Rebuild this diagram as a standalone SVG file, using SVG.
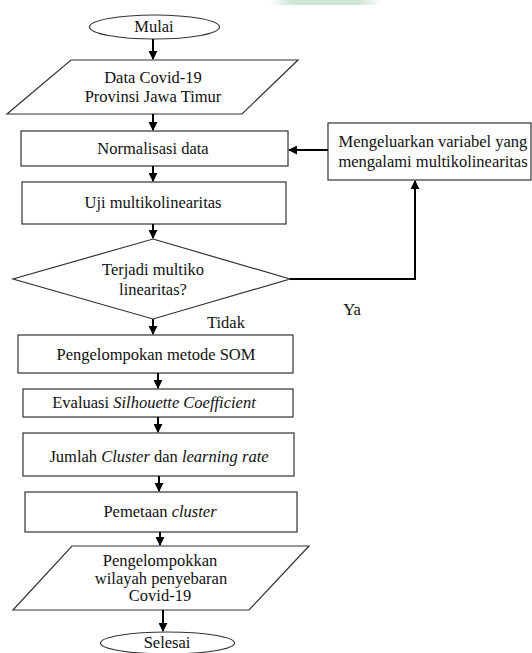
<svg xmlns="http://www.w3.org/2000/svg" width="532" height="653" viewBox="0 0 532 653">
<defs>
<style>
.s{fill:#fff;stroke:#333;stroke-width:1.2}
.t{font-family:"Liberation Serif","Times New Roman","DejaVu Serif",serif;font-size:16.5px;fill:#111;text-anchor:middle}
.c{fill:none;stroke:#000;stroke-width:2}
</style>
<marker id="ah" viewBox="0 0 10 10" refX="9" refY="5" markerWidth="4.5" markerHeight="4.5" orient="auto" markerUnits="strokeWidth">
<path d="M0,0 L10,5 L0,10 Z" fill="#000"/>
</marker>
<linearGradient id="wm" x1="0" x2="1" y1="0" y2="0">
<stop offset="0" stop-color="#cfe5d6" stop-opacity="0"/>
<stop offset="0.2" stop-color="#cfe5d6" stop-opacity="1"/>
<stop offset="0.8" stop-color="#cfe5d6" stop-opacity="1"/>
<stop offset="1" stop-color="#cfe5d6" stop-opacity="0"/>
</linearGradient>
</defs>
<rect width="532" height="653" fill="#fff"/>
<rect x="270" y="0" width="112" height="5" fill="url(#wm)"/>

<g id="mulai"><ellipse class="s" cx="154.5" cy="27" rx="65" ry="12"/><text class="t" x="154" y="32">Mulai</text></g>
<g id="data"><polygon class="s" points="71,60 298,60 242,114 7,114"/><text class="t" x="153" y="83">Data Covid-19</text><text class="t" x="153" y="102">Provinsi Jawa Timur</text></g>
<g id="normalisasi"><rect class="s" x="21" y="131" width="267" height="35"/><text class="t" x="153" y="154">Normalisasi data</text></g>
<g id="uji"><rect class="s" x="22" y="182" width="264" height="42"/><text class="t" x="153" y="208">Uji multikolinearitas</text></g>
<g id="keputusan"><polygon class="s" points="153,239 290,279 153,319 13,279"/><text class="t" x="153" y="275">Terjadi multiko</text><text class="t" x="153" y="295">linearitas?</text></g>
<g id="mengeluarkan"><rect class="s" x="328" y="123" width="203" height="57"/><text class="t" x="433" y="147">Mengeluarkan variabel yang</text><text class="t" x="433" y="167">mengalami multikolinearitas</text></g>
<g id="som"><rect class="s" x="18" y="335" width="275" height="38"/><text class="t" x="156" y="360">Pengelompokan metode SOM</text></g>
<g id="evaluasi"><rect class="s" x="23" y="389" width="270" height="28"/><text class="t" x="154" y="408">Evaluasi <tspan font-style="italic">Silhouette Coefficient</tspan></text></g>
<g id="jumlah"><rect class="s" x="23" y="433" width="271" height="43"/><text class="t" x="159" y="462">Jumlah <tspan font-style="italic">Cluster</tspan> dan <tspan font-style="italic">learning rate</tspan></text></g>
<g id="pemetaan"><rect class="s" x="25" y="492" width="272" height="40"/><text class="t" x="160" y="517">Pemetaan <tspan font-style="italic">cluster</tspan></text></g>
<g id="hasil"><polygon class="s" points="72,546 309,546 249,610 13,610"/><text class="t" x="160" y="566">Pengelompokkan</text><text class="t" x="161" y="583.5">wilayah penyebaran</text><text class="t" x="160" y="601">Covid-19</text></g>
<g id="selesai"><ellipse class="s" cx="167.5" cy="643" rx="67" ry="11"/><text class="t" x="167" y="648">Selesai</text></g>

<g id="connectors">
<line class="c" x1="153" y1="39" x2="153" y2="59" marker-end="url(#ah)"/>
<line class="c" x1="153" y1="114" x2="153" y2="130" marker-end="url(#ah)"/>
<line class="c" x1="153" y1="166" x2="153" y2="181" marker-end="url(#ah)"/>
<line class="c" x1="153" y1="224" x2="153" y2="238" marker-end="url(#ah)"/>
<line class="c" x1="153" y1="319" x2="153" y2="334" marker-end="url(#ah)"/>
<line class="c" x1="158" y1="373" x2="158" y2="388" marker-end="url(#ah)"/>
<line class="c" x1="158" y1="417" x2="158" y2="432" marker-end="url(#ah)"/>
<line class="c" x1="159" y1="476" x2="159" y2="491" marker-end="url(#ah)"/>
<line class="c" x1="160" y1="532" x2="160" y2="545" marker-end="url(#ah)"/>
<line class="c" x1="163" y1="610" x2="163" y2="631" marker-end="url(#ah)"/>
<polyline class="c" points="290,279 415,279 415,181" marker-end="url(#ah)"/>
<line class="c" x1="328" y1="150" x2="289" y2="150" marker-end="url(#ah)"/>
<text class="t" x="226" y="328">Tidak</text>
<text class="t" x="352" y="315">Ya</text>
</g>
</svg>
